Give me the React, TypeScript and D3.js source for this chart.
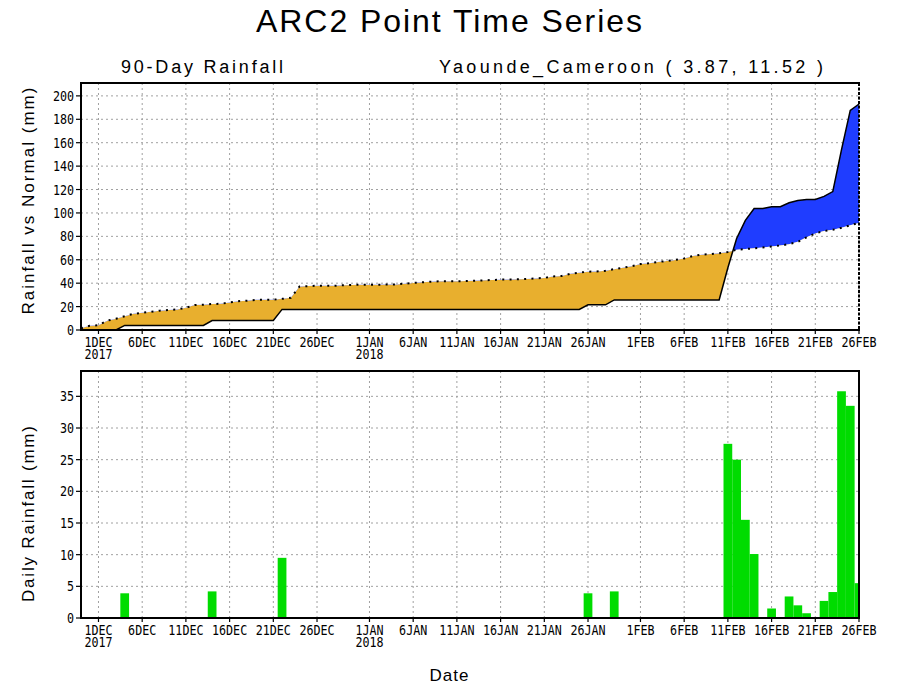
import { useEffect, useRef } from 'react';
import * as d3 from 'd3';

// 90 days: 29 Nov 2017 .. 26 Feb 2018
const firstDay = new Date(Date.UTC(2017, 10, 29));

// daily rainfall (mm), one value per day
const dailyRain = [
  0, 0, 0, 0, 0, 3.9, 0, 0, 0, 0,
  0, 0, 0, 0, 0, 4.2, 0, 0, 0, 0,
  0, 0, 0, 9.5, 0, 0, 0, 0, 0, 0,
  0, 0, 0, 0, 0, 0, 0, 0, 0, 0,
  0, 0, 0, 0, 0, 0, 0, 0, 0, 0,
  0, 0, 0, 0, 0, 0, 0, 0, 3.9, 0,
  0, 4.2, 0, 0, 0, 0, 0, 0, 0, 0,
  0, 0, 0, 0, 27.5, 25.0, 15.5, 10.1, 0, 1.5,
  0, 3.4, 2.0, 0.75, 0, 2.7, 4.1, 35.8, 33.5, 5.5,
];

// normal (climatological) accumulation, mm
const normalCum = [
  1.5, 3.7, 4.0, 8.0, 9.6, 11.8, 13.8, 14.7, 15.6, 16.5,
  17.1, 17.6, 19.0, 21.4, 21.6, 22.2, 22.4, 23.5, 24.6, 25.0,
  25.8, 25.9, 25.9, 26.6, 27.5, 37.2, 37.5, 37.8, 37.8, 37.8,
  38.2, 38.5, 38.7, 38.7, 38.7, 38.8, 38.9, 39.6, 40.2, 40.7,
  41.2, 41.6, 41.6, 41.6, 41.8, 42.0, 42.4, 42.7, 43.0, 43.2,
  43.3, 43.6, 44.1, 44.5, 45.8, 46.2, 48.0, 49.0, 49.8, 50.0,
  50.6, 52.0, 53.2, 54.4, 56.3, 57.0, 58.1, 58.9, 59.9, 61.1,
  63.2, 64.3, 64.9, 65.6, 66.7, 68.5, 69.1, 69.8, 70.5, 71.4,
  72.2, 73.3, 75.3, 79.2, 82.5, 84.5, 85.6, 87.3, 89.5, 91.5,
];

const tickDays = [
  '2017-12-01', '2017-12-06', '2017-12-11', '2017-12-16', '2017-12-21', '2017-12-26',
  '2018-01-01', '2018-01-06', '2018-01-11', '2018-01-16', '2018-01-21', '2018-01-26',
  '2018-02-01', '2018-02-06', '2018-02-11', '2018-02-16', '2018-02-21', '2018-02-26',
];
const tickLabels = [
  '1DEC', '6DEC', '11DEC', '16DEC', '21DEC', '26DEC',
  '1JAN', '6JAN', '11JAN', '16JAN', '21JAN', '26JAN',
  '1FEB', '6FEB', '11FEB', '16FEB', '21FEB', '26FEB',
];
// second label line (year) under the first tick of each year
const yearLabels = ['2017', '', '', '', '', '', '2018', '', '', '', '', '', '', '', '', '', '', ''];

const topTicks = [0, 20, 40, 60, 80, 100, 120, 140, 160, 180, 200];
const bottomTicks = [0, 5, 10, 15, 20, 25, 30, 35];

const ORANGE = '#E8AF2E';
const BLUE = '#1F3DFF';
const GREEN = '#00DC00';
const GRID = '#a0a0a0';
const mono = "'DejaVu Sans Mono', monospace";
const sans = "'Liberation Sans', Arial, sans-serif";

type Sel = d3.Selection<SVGGElement | SVGSVGElement, unknown, null, undefined>;

function tickText(g: Sel, x: number, y: number, s: string, anchor: string, second = '') {
  const t = g.append('text')
    .attr('transform', `translate(${x},${y}) scale(0.9,1.06)`)
    .attr('text-anchor', anchor)
    .attr('font-family', mono)
    .attr('font-size', 13)
    .attr('fill', '#000');
  t.append('tspan').attr('x', 0).attr('y', 0).text(s);
  if (second) t.append('tspan').attr('x', 0).attr('y', 11.3).text(second);
}

export default function App() {
  const svgRef = useRef<SVGSVGElement>(null);

  useEffect(() => {
    const svg = d3.select(svgRef.current) as unknown as Sel;
    svg.selectAll('*').remove();

    const X0 = 81, X1 = 859;
    const dates = dailyRain.map((_, i) => d3.utcDay.offset(firstDay, i));
    const actualCum = Array.from(d3.cumsum(dailyRain));
    const parse = d3.utcParse('%Y-%m-%d');
    const ticks = tickDays.map(d => parse(d) as Date);

    const x = d3.scaleUtc().domain([dates[0], dates[dates.length - 1]]).range([X0, X1]);
    const dayW = x(dates[1]) - x(dates[0]);

    const panels = [
      { top: 83, bottom: 330 },
      { top: 371, bottom: 618 },
    ];
    const yTop = d3.scaleLinear().domain([0, 211]).range([panels[0].bottom, panels[0].top]);
    const yBot = d3.scaleLinear().domain([0, 39]).range([panels[1].bottom, panels[1].top]);

    svg.append('rect').attr('width', 900).attr('height', 700).attr('fill', '#fff');
    const defs = svg.append('defs');

    // grid
    const grid = (p: { top: number; bottom: number }, y: d3.ScaleLinear<number, number>, yt: number[]) => {
      const g = svg.append('g').attr('stroke', GRID).attr('stroke-width', 1).attr('stroke-dasharray', '2,3');
      ticks.forEach(t => {
        g.append('line').attr('x1', x(t)).attr('x2', x(t)).attr('y1', p.top).attr('y2', p.bottom);
      });
      yt.slice(1).forEach(v => {
        g.append('line').attr('x1', X0).attr('x2', X1).attr('y1', y(v)).attr('y2', y(v));
      });
    };
    grid(panels[0], yTop, topTicks);
    grid(panels[1], yBot, bottomTicks);

    // ---- top panel: actual vs normal accumulation
    const idx = d3.range(dates.length);
    const xi = (i: number) => x(dates[i]);

    defs.append('clipPath').attr('id', 'above')
      .append('path')
      .attr('d', d3.area<number>().x(xi).y0(panels[0].top - 5).y1(i => yTop(normalCum[i]))(idx) ?? '');
    defs.append('clipPath').attr('id', 'below')
      .append('path')
      .attr('d', d3.area<number>().x(xi).y0(i => yTop(normalCum[i])).y1(panels[0].bottom + 5)(idx) ?? '');

    const diff = d3.area<number>().x(xi).y0(i => yTop(normalCum[i])).y1(i => yTop(actualCum[i]));
    svg.append('path').attr('d', diff(idx) ?? '').attr('fill', ORANGE).attr('clip-path', 'url(#below)');
    svg.append('path').attr('d', diff(idx) ?? '').attr('fill', BLUE).attr('clip-path', 'url(#above)');

    svg.append('path')
      .attr('d', d3.line<number>().x(xi).y(i => yTop(actualCum[i]))(idx) ?? '')
      .attr('fill', 'none').attr('stroke', '#000').attr('stroke-width', 1.5);
    svg.append('path')
      .attr('d', d3.line<number>().x(xi).y(i => yTop(normalCum[i]))(idx) ?? '')
      .attr('fill', 'none').attr('stroke', '#000').attr('stroke-width', 2).attr('stroke-dasharray', '2,5.3');

    // ---- bottom panel: daily bars
    defs.append('clipPath').attr('id', 'barclip')
      .append('rect').attr('x', X0).attr('y', panels[1].top).attr('width', X1 - X0).attr('height', panels[1].bottom - panels[1].top);
    svg.append('g').attr('clip-path', 'url(#barclip)')
      .selectAll('rect')
      .data(idx)
      .join('rect')
      .attr('x', i => xi(i) - dayW / 2)
      .attr('width', dayW)
      .attr('y', i => yBot(dailyRain[i]))
      .attr('height', i => yBot(0) - yBot(dailyRain[i]))
      .attr('fill', GREEN);

    // ---- frames, ticks, labels
    panels.forEach((p, k) => {
      const y = k === 0 ? yTop : yBot;
      const yt = k === 0 ? topTicks : bottomTicks;
      const f = svg.append('g').attr('stroke', '#000').attr('stroke-width', 2).attr('fill', 'none');
      f.append('line').attr('x1', X0).attr('x2', X0).attr('y1', p.top).attr('y2', p.bottom + 1);
      f.append('line').attr('x1', X0 - 1).attr('x2', X1 + 1).attr('y1', p.top).attr('y2', p.top);
      f.append('line').attr('x1', X0 - 1).attr('x2', X1 + 1).attr('y1', p.bottom).attr('y2', p.bottom);
      f.append('line').attr('x1', X1).attr('x2', X1).attr('y1', p.top).attr('y2', p.bottom)
        .attr('stroke-dasharray', k === 0 ? '3,1.5' : null);

      const tk = svg.append('g').attr('stroke', '#000').attr('stroke-width', 1.2);
      yt.forEach(v => {
        tk.append('line').attr('x1', X0 - 5).attr('x2', X0).attr('y1', y(v)).attr('y2', y(v));
        tickText(svg, 74, y(v) + 5, String(v), 'end');
      });
      ticks.forEach((t, i) => {
        tk.append('line').attr('x1', x(t)).attr('x2', x(t)).attr('y1', p.bottom).attr('y2', p.bottom + 4);
        tickText(svg, x(t), p.bottom + 17, tickLabels[i], 'middle', yearLabels[i]);
      });
    });

    // titles
    svg.append('text').attr('x', 256).attr('y', 32)
      .attr('font-family', sans).attr('font-size', 32)
      .attr('textLength', 386).attr('lengthAdjust', 'spacing')
      .text('ARC2 Point Time Series');
    svg.append('text').attr('x', 121).attr('y', 73)
      .attr('font-family', sans).attr('font-size', 18)
      .attr('textLength', 162).attr('lengthAdjust', 'spacing')
      .text('90-Day Rainfall');
    svg.append('text').attr('x', 439).attr('y', 73)
      .attr('font-family', sans).attr('font-size', 18)
      .attr('textLength', 384).attr('lengthAdjust', 'spacing')
      .text('Yaounde_Cameroon ( 3.87, 11.52 )');

    svg.append('text').attr('transform', 'translate(34,201) rotate(-90)')
      .attr('text-anchor', 'middle')
      .attr('font-family', sans).attr('font-size', 17)
      .attr('textLength', 227).attr('lengthAdjust', 'spacing')
      .text('Rainfall vs Normal (mm)');
    svg.append('text').attr('transform', 'translate(34,514) rotate(-90)')
      .attr('text-anchor', 'middle')
      .attr('font-family', sans).attr('font-size', 17)
      .attr('textLength', 176).attr('lengthAdjust', 'spacing')
      .text('Daily Rainfall (mm)');
    svg.append('text').attr('x', 449).attr('y', 681)
      .attr('text-anchor', 'middle')
      .attr('font-family', sans).attr('font-size', 17)
      .attr('textLength', 39).attr('lengthAdjust', 'spacing')
      .text('Date');
  }, []);

  return (
    <svg
      ref={svgRef}
      width={900}
      height={700}
      style={{ position: 'absolute', left: 0, top: 0, display: 'block' }}
    />
  );
}
